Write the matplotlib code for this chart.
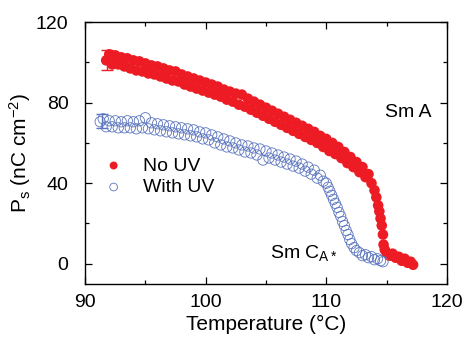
import matplotlib
matplotlib.use("Agg")
import matplotlib.pyplot as plt
from matplotlib.ticker import MultipleLocator

plt.rcParams['font.family'] = ['Liberation Sans', 'DejaVu Sans']
plt.rcParams['mathtext.default'] = 'regular'

# No UV (filled red)
no_uv_t = [91.75, 92.0, 92.25, 92.5, 92.75, 93.0, 93.25, 93.5, 93.75, 94.0,
           94.25, 94.5, 94.75, 95.0, 95.25, 95.5, 95.75, 96.0, 96.25, 96.5,
           96.75, 97.0, 97.25, 97.5, 97.75, 98.0, 98.25, 98.5, 98.75, 99.0,
           99.25, 99.5, 99.75, 100.0, 100.25, 100.5, 100.75, 101.0, 101.25, 101.5,
           101.75, 102.0, 102.25, 102.5, 102.75, 103.0, 103.25, 103.5, 103.75, 104.0,
           104.25, 104.5, 104.75, 105.0, 105.25, 105.5, 105.75, 106.0, 106.25, 106.5,
           106.75, 107.0, 107.25, 107.5, 107.75, 108.0, 108.25, 108.5, 108.75, 109.0,
           109.25, 109.5, 109.75, 110.0, 110.25, 110.5, 110.75, 111.0, 111.25, 111.5,
           111.75, 112.0, 112.25, 112.5, 112.75, 113.0, 113.25, 113.5, 113.75, 114.0,
           114.15, 114.3, 114.4, 114.5, 114.6, 114.7,
           114.75, 114.85, 115.0, 115.25, 115.5, 115.75, 116.0, 116.25, 116.5, 116.75,
           117.0, 117.2]
no_uv_p = [101.0, 104.0, 99.0, 103.5, 99.0, 102.5, 98.0, 102.0, 97.0, 101.0,
           96.0, 100.5, 95.5, 99.5, 94.5, 98.5, 94.0, 98.0, 93.0, 97.0,
           92.0, 96.0, 91.0, 95.5, 90.5, 94.0, 89.0, 93.0, 88.0, 92.0,
           87.0, 91.0, 86.0, 90.0, 85.0, 89.0, 84.0, 88.0, 83.0, 86.5,
           81.5, 85.5, 80.5, 84.5, 79.0, 84.0, 78.0, 82.0, 76.5, 80.5,
           75.0, 79.0, 73.5, 77.5, 72.0, 76.0, 70.5, 74.5, 69.0, 73.0,
           67.5, 71.5, 66.0, 70.0, 64.5, 68.5, 63.0, 67.0, 61.5, 65.5,
           60.0, 63.5, 58.0, 62.0, 56.0, 60.0, 54.5, 58.0, 52.5, 55.5,
           50.0, 53.0, 48.0, 50.5, 45.5, 48.0, 43.0, 44.5, 40.0, 36.5,
           33.0, 29.0, 26.0, 22.5, 19.0, 14.5,
           9.5, 7.0, 5.5, 4.0, 5.0, 3.0, 3.5, 1.5, 2.5, 0.5,
           1.0, -0.5]

# With UV (open blue)
uv_t = [91.25, 91.5, 91.75, 92.0, 92.25, 92.5, 92.75, 93.0, 93.25, 93.5,
        93.75, 94.0, 94.25, 94.5, 94.75, 95.0, 95.25, 95.5, 95.75, 96.0,
        96.25, 96.5, 96.75, 97.0, 97.25, 97.5, 97.75, 98.0, 98.25, 98.5,
        98.75, 99.0, 99.25, 99.5, 99.75, 100.0, 100.25, 100.5, 100.75, 101.0,
        101.25, 101.5, 101.75, 102.0, 102.25, 102.5, 102.75, 103.0, 103.25, 103.5,
        103.75, 104.0, 104.25, 104.5, 104.75, 105.0, 105.25, 105.5, 105.75, 106.0,
        106.25, 106.5, 106.75, 107.0, 107.25, 107.5, 107.75, 108.0, 108.25, 108.5,
        108.75, 109.0, 109.25, 109.5, 109.75, 110.0, 110.15, 110.3, 110.45, 110.6,
        110.75, 110.9, 111.05, 111.2, 111.35, 111.5, 111.65, 111.8, 111.95, 112.1,
        112.3, 112.5, 112.75, 113.0, 113.25, 113.5, 113.75, 114.0, 114.25, 114.5,
        114.7]
uv_p = [70.5, 72.0, 68.0, 71.0, 68.0, 71.0, 67.5, 70.5, 67.5, 71.0,
        67.5, 70.5, 67.0, 71.0, 67.5, 72.5, 67.0, 70.0, 66.5, 69.5,
        66.0, 69.0, 65.5, 68.5, 65.0, 68.0, 64.5, 67.5, 64.0, 67.0,
        63.5, 66.5, 63.0, 65.5, 62.0, 65.0, 61.5, 64.0, 60.0, 63.0,
        59.0, 62.0, 58.0, 61.0, 57.5, 60.0, 56.5, 59.0, 55.5, 58.5,
        55.0, 57.5, 54.0, 57.0, 51.5, 56.0, 52.5, 55.0, 51.5, 54.0,
        50.5, 53.0, 49.5, 52.0, 48.5, 51.0, 47.5, 49.5, 46.0, 48.0,
        44.5, 46.5, 42.5, 44.0, 41.0, 40.0, 38.0, 36.0, 34.0, 32.0,
        30.0, 28.0, 25.5, 23.5, 21.0, 19.0, 16.5, 14.5, 12.0, 10.0,
        8.0, 6.5, 5.5, 4.0, 4.5, 3.0, 3.5, 2.0, 2.5, 1.5,
        1.0]

# error bars at the start of each run
err_t = [91.8, 91.4]
err_p = [101.2, 70.9]
err_size = [4.9, 3.7]

red = '#ED1C24'
blue = '#5B75BE'

fig = plt.figure(figsize=(4.65, 3.4), dpi=100)
ax = fig.add_axes([0.183, 0.165, 0.778, 0.770])

ax.scatter(no_uv_t, no_uv_p, s=58, color=red, edgecolors='none', zorder=2,
           label='No UV')
ax.scatter(uv_t, uv_p, s=55, facecolors='none', edgecolors=blue,
           linewidths=0.6, zorder=3, label='With UV')
ax.errorbar(err_t[0], err_p[0], yerr=err_size[0], color=red, capsize=4,
            elinewidth=1, capthick=1, zorder=4)
ax.errorbar(err_t[1], err_p[1], yerr=err_size[1], color=blue, capsize=4,
            elinewidth=1, capthick=1, zorder=4)

ax.set_xlim(90, 120)
ax.set_ylim(-10, 120)
ax.xaxis.set_major_locator(MultipleLocator(10))
ax.xaxis.set_minor_locator(MultipleLocator(5))
ax.yaxis.set_major_locator(MultipleLocator(40))
ax.yaxis.set_minor_locator(MultipleLocator(20))
ax.tick_params(which='both', direction='in', top=True, right=True,
               labelsize=14, width=0.9)
ax.tick_params(which='major', length=5)
ax.tick_params(which='minor', length=3)
ax.tick_params(axis='x', which='major', pad=7)
ax.tick_params(axis='y', which='major', pad=12)
for sp in ax.spines.values():
    sp.set_linewidth(1.0)

ax.set_xlabel('Temperature (°C)', fontsize=15, labelpad=3)
ax.set_ylabel('P$_s$ (nC cm$^{-2}$)', fontsize=15, labelpad=2)

ax.text(114.85, 75, 'Sm A', fontsize=14, va='center')
ax.text(105.3, 5.5, r'Sm C$_{A*}$', fontsize=14, va='center')

ax.legend(loc='center left', bbox_to_anchor=(0.052, 0.41), frameon=False,
          fontsize=14, handlelength=1.0, handletextpad=1.0, borderpad=0,
          borderaxespad=0, labelspacing=0.2, markerscale=0.75,
          scatterpoints=1)

fig.savefig('out.png', dpi=100)
